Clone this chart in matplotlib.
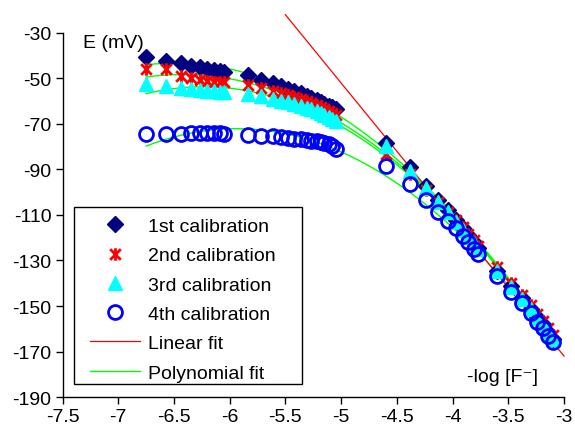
"""
Electrode calibration curves: E (mV) against -log [F-].
"""
#############################################################################
import numpy as np
import matplotlib
matplotlib.use("Agg")
import matplotlib.pyplot as plt
from matplotlib.path import Path
from matplotlib.patches import Rectangle
#############################################################################

# -- Data --
log_f = [-6.75, -6.57, -6.44, -6.35, -6.27, -6.20, -6.14, -6.09, -6.05,
         -5.84, -5.72, -5.61, -5.54, -5.48, -5.42, -5.36, -5.31, -5.27,
         -5.22, -5.18, -5.15, -5.11, -5.08, -5.05,
         -4.60, -4.38, -4.24, -4.13, -4.04, -3.97, -3.91, -3.86, -3.81,
         -3.77, -3.60, -3.48, -3.38, -3.30, -3.24, -3.19, -3.14, -3.10]

cal_1 = [-40.7, -42.2, -43.3, -44.4, -45.1, -45.8, -46.3, -46.7, -47.0,
         -48.5, -50.5, -52.1, -53.4, -54.6, -55.6, -56.5, -57.6, -58.4,
         -59.3, -60.2, -61.1, -62.0, -62.7, -63.6,
         -78.3, -89.0, -97.2, -103.3, -108.0, -112.3, -115.8, -118.9, -121.7,
         -124.3, -134.4, -141.4, -146.7, -151.2, -154.9, -158.1, -161.3, -164.3]

cal_2 = [-45.8, -45.8, -48.8, -49.9, -50.7, -51.1, -51.4, -51.7, -51.7,
         -52.8, -54.2, -55.4, -56.4, -57.4, -58.3, -59.2, -60.1, -60.9,
         -61.8, -62.6, -63.5, -64.3, -65.1, -66.0,
         -83.2, -92.0, -99.0, -104.5, -108.6, -112.0, -115.3, -118.2, -121.0,
         -123.5, -133.0, -140.0, -145.2, -149.5, -153.3, -156.5, -159.8, -162.8]

cal_3 = [-52.4, -53.2, -54.2, -54.6, -55.1, -55.4, -55.6, -55.8, -56.1,
         -56.8, -57.9, -58.9, -59.7, -60.5, -61.3, -62.1, -62.9, -63.6,
         -64.4, -65.2, -66.0, -66.9, -67.7, -68.6,
         -79.5, -90.5, -98.3, -104.2, -108.8, -113.0, -116.5, -119.5, -122.3,
         -124.8, -134.8, -141.8, -147.0, -151.5, -155.2, -158.3, -161.5, -164.5]

cal_4 = [-74.4, -74.3, -74.2, -74.1, -74.0, -74.0, -74.0, -74.0, -74.2,
         -74.8, -75.1, -75.4, -75.8, -76.2, -76.5, -76.7, -77.0, -77.3,
         -77.6, -78.1, -78.5, -79.0, -79.6, -81.0,
         -88.3, -96.4, -103.3, -108.6, -112.5, -115.9, -119.1, -122.0, -125.0,
         -127.2, -136.7, -143.8, -148.7, -153.1, -156.9, -159.8, -163.1, -166.0]

labels = ["1st calibration", "2nd calibration", "3rd calibration", "4th calibration"]

# linear (Nernstian) fit as given on the chart, drawn over its range
lin_slope = -60.0
lin_icpt = -352.0
lin_range = [-5.5, -3.0]

x_ticks = [-7.5, -7, -6.5, -6, -5.5, -5, -4.5, -4, -3.5, -3]
y_ticks = [-30, -50, -70, -90, -110, -130, -150, -170, -190]


def main():
    plt.rcParams['font.family'] = ['Liberation Sans', 'DejaVu Sans']
    fig = plt.figure(figsize=(5.75, 4.35), dpi=100)
    ax = fig.add_axes([0.1087, 0.085, 0.8722, 0.837])

    x = np.array(log_f)

    # -- asterisk marker: X plus a vertical bar --
    star = Path([(0, -1), (0, 1), (-0.85, -0.85), (0.85, 0.85), (-0.85, 0.85), (0.85, -0.85)],
                [Path.MOVETO, Path.LINETO, Path.MOVETO, Path.LINETO, Path.MOVETO, Path.LINETO])

    # -- polynomial fits (2nd order) --
    xf = np.linspace(x.min(), x.max(), 200)
    for ys in (cal_1, cal_2, cal_3, cal_4):
        p = np.polyfit(x, ys, 2)
        ax.plot(xf, np.polyval(p, xf), '-', color='#00FF00', lw=1, zorder=2)

    # -- linear fit --
    xl = np.array(lin_range)
    ax.plot(xl, lin_slope * xl + lin_icpt, '-', color='#FF0000', lw=0.9, zorder=2, clip_on=False)

    # -- data --
    ax.plot(x, cal_1, 'D', color='#000080', ms=8, mec='#000080', zorder=3, label=labels[0])
    ax.plot(x, cal_2, marker=star, ls='none', color='#FF0000', ms=9, mew=2, zorder=4, label=labels[1])
    ax.plot(x, cal_3, '^', color='#00FFFF', ms=10, mec='#00FFFF', zorder=5, label=labels[2])
    ax.plot(x, cal_4, 'o', mfc='none', mec='#0000FF', ms=10, mew=2, zorder=6, label=labels[3])

    # legend-only line handles
    ax.plot([], [], '-', color='#FF0000', lw=0.9, label='Linear fit')
    ax.plot([], [], '-', color='#00FF00', lw=1, label='Polynomial fit')

    # -- axes --
    ax.set_xlim(-7.5, -3)
    ax.set_ylim(-190, -30)
    ax.set_xticks(x_ticks)
    ax.set_yticks(y_ticks)
    ax.set_xticklabels([f"{t:g}" for t in x_ticks])
    ax.set_yticklabels([f"{t:g}" for t in y_ticks])
    ax.tick_params(direction='out', length=5, width=1, labelsize=14, pad=3)
    for s in ('top', 'right'):
        ax.spines[s].set_visible(False)
    for s in ('left', 'bottom'):
        ax.spines[s].set_linewidth(1)

    ax.text(-7.316, -34, "E (mV)", fontsize=14, ha='left', va='center')
    ax.text(-3.23, -180.8, "-log [F\u207b]", fontsize=14, ha='right', va='center')

    # -- legend: entries without frame, box drawn separately --
    ax.legend(loc='upper left', bbox_to_anchor=(0.019, 0.541), fontsize=14,
              frameon=False, handlelength=2.6, handletextpad=0.4, labelspacing=0.6,
              borderpad=0.4, numpoints=1)
    ax.add_patch(Rectangle((0.023, 0.036), 0.455, 0.486, transform=ax.transAxes,
                           fill=False, edgecolor='black', lw=1, zorder=7))

    fig.savefig("out.png", dpi=100)


if __name__ == "__main__":
    main()
